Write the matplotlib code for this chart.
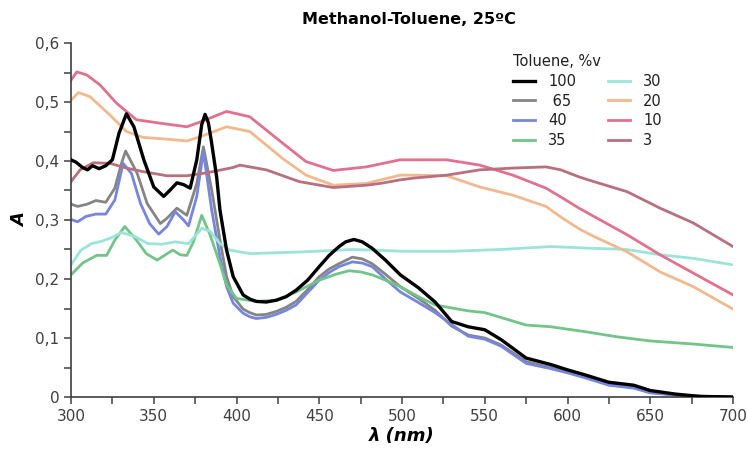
import matplotlib
matplotlib.use('Agg')
import matplotlib.pyplot as plt
from matplotlib.ticker import MultipleLocator, FuncFormatter

# Absorbance spectra (wavelength nm, A)
wl_100 = [300, 303, 307, 310, 313, 317, 321, 325, 329, 333.5, 338, 344, 350, 356, 360, 364, 368, 372, 376, 379,
          381, 383, 385, 388, 390, 394, 398, 404, 408, 412, 418, 424, 430, 436, 443, 450, 456, 462, 466, 471, 476,
          482, 490, 499, 510, 520, 530, 540, 550, 560, 575, 590, 600, 610, 625, 640, 650, 665, 680, 700]
a_100 = [.402, .398, .389, .385, .392, .387, .392, .402, .447, .480, .458, .402, .356, .340, .351, .363, .360, .354,
         .402, .462, .479, .465, .430, .373, .317, .249, .204, .173, .166, .162, .161, .164, .170, .181, .198, .221,
         .240, .255, .263, .267, .263, .252, .232, .207, .185, .161, .128, .119, .114, .097, .066, .055, .046, .038,
         .025, .020, .011, .005, .001, 0.0]

wl_65 = [300, 304, 310, 315, 321, 326.5, 330.5, 333, 340, 346, 354, 358, 364, 370, 376, 380, 385, 390, 394, 398,
         404, 408, 412, 418, 424, 430, 436, 443, 450, 456, 462, 470, 476, 482, 490, 499, 510, 520, 530, 540, 550,
         560, 575, 590, 600, 610, 625, 640, 650, 670, 700]
a_65 = [.327, .323, .327, .333, .330, .354, .396, .417, .379, .328, .294, .303, .320, .308, .362, .424, .351, .266,
        .204, .170, .149, .143, .139, .140, .145, .152, .162, .182, .204, .217, .226, .237, .234, .226, .208, .187,
        .167, .147, .120, .105, .100, .088, .060, .050, .043, .035, .022, .017, .008, .002, 0.0]

wl_40 = [300, 304, 309, 315, 321, 326.5, 331.5, 336.5, 342, 347.5, 353, 358, 363, 368, 371, 376, 380, 385, 390,
         394, 398, 404, 408, 412, 418, 424, 430, 436, 443, 450, 456, 462, 470, 476, 482, 490, 499, 510, 520, 540,
         550, 560, 575, 590, 600, 610, 625, 640, 650, 670, 700]
a_40 = [.301, .297, .306, .310, .310, .334, .396, .379, .328, .294, .276, .289, .314, .300, .290, .340, .416, .317,
        .238, .187, .159, .142, .136, .133, .135, .140, .147, .156, .177, .198, .211, .221, .229, .227, .221, .200,
        .178, .160, .143, .103, .098, .086, .057, .048, .041, .033, .020, .015, .007, .002, 0.0]

wl_35 = [300, 307, 315.5, 321.5, 326.5, 332.5, 339.5, 345.5, 352, 357, 361.5, 366, 370, 374, 379, 384, 390, 394,
         400, 412, 424, 436, 450, 460, 468, 475, 482, 490, 499, 510, 520, 540, 550, 575, 590, 610, 630, 650, 675, 700]
a_35 = [.207, .227, .240, .240, .266, .289, .266, .243, .232, .241, .249, .241, .240, .263, .308, .275, .226, .190,
        .167, .162, .164, .178, .198, .208, .214, .212, .207, .198, .187, .170, .156, .146, .143, .122, .119, .111,
        .102, .095, .090, .084]

wl_30 = [300, 306, 312.5, 318.5, 324.5, 330.5, 338.5, 346.5, 355, 363, 371, 379, 384, 390, 396, 408, 440, 470,
         483, 500, 530, 560, 590, 615, 636, 656, 676, 700]
a_30 = [.224, .249, .260, .264, .270, .279, .272, .260, .259, .263, .260, .286, .281, .260, .249, .243, .246, .250,
        .249, .247, .247, .250, .255, .252, .250, .241, .235, .224]

wl_20 = [300, 304.5, 311.5, 323.5, 333.5, 343.5, 358, 370, 378, 394, 408, 428, 442, 458.5, 478.5, 498.8, 507, 527,
         547, 567, 587, 596, 607, 616, 636, 656, 676, 700]
a_20 = [.503, .516, .509, .478, .450, .440, .437, .434, .441, .458, .450, .404, .376, .359, .362, .376, .376, .375,
        .356, .342, .323, .305, .285, .272, .246, .212, .187, .149]

wl_10 = [300, 303.5, 309.5, 317.5, 327.5, 339.5, 354, 370, 378, 394, 408, 428, 442, 458.5, 478.5, 498.8, 507, 527,
         547, 567, 587, 596, 607, 616, 636, 656, 676, 700]
a_10 = [.537, .551, .546, .529, .498, .470, .464, .458, .466, .484, .475, .430, .399, .384, .390, .402, .402, .402,
        .393, .376, .354, .339, .320, .306, .275, .241, .210, .173]

wl_3 = [300, 305.5, 313.5, 323.5, 333.5, 343.5, 358, 370, 382, 398, 402, 418, 438, 458.5, 478.5, 487, 498.8, 507,
        527, 547, 567, 587, 596, 607, 616, 636, 656, 676, 700]
a_3 = [.365, .385, .397, .396, .388, .382, .375, .375, .380, .389, .393, .385, .365, .355, .359, .362, .368, .371,
       .376, .385, .388, .390, .385, .373, .365, .348, .320, .295, .255]

labels = ['100', ' 65', '40', '35', '30', '20', '10', '3']
colors = ['#000000', '#858585', '#7586dc', '#72c487', '#9ce3d9', '#f2b98f', '#e2718f', '#b8707f']
series = [(wl_100, a_100), (wl_65, a_65), (wl_40, a_40), (wl_35, a_35),
          (wl_30, a_30), (wl_20, a_20), (wl_10, a_10), (wl_3, a_3)]

plt.rcParams['font.family'] = ['DejaVu Sans']
fig = plt.figure(figsize=(7.48, 4.5), dpi=100)
ax = fig.add_axes([71 / 748, 1 - 397 / 450, 662 / 748, 354 / 450])

lines = []
for (wl, a), lab, col in zip(series, labels, colors):
    lw = 2.4 if lab == '100' else 2.0
    ln, = ax.plot(wl, a, color=col, lw=lw, label=lab, solid_joinstyle='round')
    lines.append(ln)
# draw the black curve on top
lines[0].set_zorder(5)

ax.set_xlim(300, 700)
ax.set_ylim(0, 0.6)
ax.xaxis.set_major_locator(MultipleLocator(50))
ax.xaxis.set_minor_locator(MultipleLocator(25))
ax.yaxis.set_major_locator(MultipleLocator(0.1))
ax.yaxis.set_minor_locator(MultipleLocator(0.05))
ax.yaxis.set_major_formatter(FuncFormatter(lambda v, p: ('%g' % round(v, 2)).replace('.', ',')))

for s in ['top', 'right']:
    ax.spines[s].set_visible(False)
for s in ['left', 'bottom']:
    ax.spines[s].set_color('#404040')
    ax.spines[s].set_linewidth(1.2)
ax.tick_params(which='both', direction='out', length=5, width=1.1, color='#404040')
ax.tick_params(which='major', labelcolor='#404040', labelsize=11)

ax.set_xlabel('λ (nm)', fontsize=13, fontweight='bold', style='italic', labelpad=2)
ax.set_ylabel('A', fontsize=13, fontweight='bold', style='italic', labelpad=4)
fig.text(409 / 748, 1 - 20 / 450, 'Methanol-Toluene, 25ºC', ha='center', va='center',
         fontsize=11.5, fontweight='bold')

leg = ax.legend(handles=lines, ncol=2, frameon=False, title='Toluene, %v', fontsize=10.5,
                title_fontsize=10.5, loc='upper left', bbox_to_anchor=(503 / 748, 1 - 44 / 450),
                bbox_transform=fig.transFigure, handlelength=1.5, handletextpad=0.9,
                labelspacing=0.32, columnspacing=2.2, borderpad=0.2)
leg._legend_box.align = 'left'
for t in leg.get_texts():
    t.set_color('#202020')
leg.get_title().set_color('#202020')

fig.savefig('out.png', dpi=100)
